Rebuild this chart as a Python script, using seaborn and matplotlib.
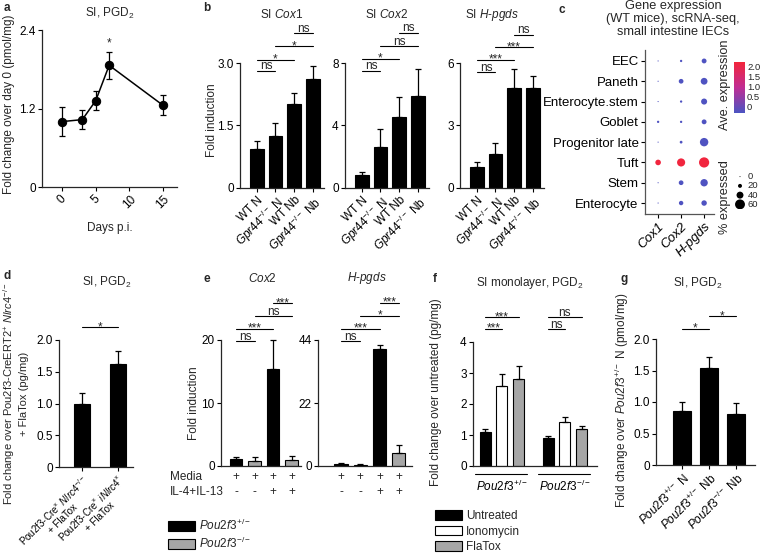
import numpy as np
import pandas as pd
import matplotlib
matplotlib.use("Agg")
import matplotlib.pyplot as plt
import seaborn as sns
from matplotlib.colors import LinearSegmentedColormap, Normalize
from matplotlib.cm import ScalarMappable
from matplotlib.patches import Patch

# ---------------- data ----------------
# a: PGD2 time course
days_a = [0, 3, 5, 7, 15]
pgd_a = [1.0, 1.03, 1.32, 1.86, 1.25]
sem_a = [0.22, 0.15, 0.15, 0.21, 0.15]

# b: fold induction
labels_b = ["WT N", r"$\mathit{Gpr44}^{-/-}$ N", "WT Nb", r"$\mathit{Gpr44}^{-/-}$ Nb"]
cox1_b = [0.93, 1.25, 2.01, 2.61]
cox1_b_sem = [0.19, 0.31, 0.27, 0.31]
cox2_b = [0.82, 2.62, 4.53, 5.86]
cox2_b_sem = [0.21, 1.13, 1.29, 1.76]
hpgds_b = [1.03, 1.65, 4.81, 4.78]
hpgds_b_sem = [0.21, 0.49, 0.92, 0.60]
sig_cox1_b = [(0, 1, 2.82, "ns"), (0, 2, 3.08, "*"), (1, 3, 3.40, "*"), (2, 3, 3.72, "ns")]
sig_cox2_b = [(0, 1, 7.5, "ns"), (0, 2, 8.26, "*"), (1, 3, 9.07, "ns"), (2, 3, 9.93, "ns")]
sig_hpgds_b = [(0, 1, 5.56, "ns"), (0, 2, 6.16, "***"), (1, 3, 6.75, "***"), (2, 3, 7.35, "ns")]

# c: scRNA-seq dot plot
cells_c = ["EEC", "Paneth", "Enterocyte.stem", "Goblet", "Progenitor late", "Tuft", "Stem", "Enterocyte"]
genes_c = ["Cox1", "Cox2", "H-pgds"]
pct_cox1 = [1, 1, 1, 9, 1, 31, 1, 1]
pct_cox2 = [9, 25, 9, 9, 12, 48, 25, 23]
pct_hpgds = [26, 39, 34, 26, 50, 62, 43, 30]
avg_cox1 = [-0.3, -0.3, -0.3, -0.3, -0.3, 2.2, -0.3, -0.3]
avg_cox2 = [-0.3, -0.3, -0.3, -0.3, -0.3, 2.2, -0.3, -0.3]
avg_hpgds = [-0.3, -0.3, -0.3, -0.3, -0.3, 2.2, -0.3, -0.3]
legend_pct = [0, 20, 40, 60]

# d
labels_d = [r"Pou2f3-Cre$^{\times}$ $\mathit{Nlrc4}^{-/-}$" + "\n+ FlaTox",
            r"Pou2f3-Cre$^{\times}$ $\mathit{iNlrc4}^{\times}$" + "\n+ FlaTox"]
pgd_d = [0.99, 1.62]
pgd_d_sem = [0.18, 0.21]
sig_d = [(0, 1, 2.2, "*")]

# e
groups_e = ["het media", "ko media", "het IL", "ko IL"]
geno_e = ["het", "ko", "het", "ko"]
media_e = ["+", "+", "+", "+"]
il_e = ["-", "-", "+", "+"]
cox2_e = [1.17, 0.85, 15.4, 0.9]
cox2_e_sem = [0.33, 0.65, 4.6, 0.75]
hpgds_e = [0.7, 0.47, 40.8, 4.4]
hpgds_e_sem = [0.3, 0.33, 1.3, 2.8]
sig_cox2_e = [(0, 1, 19.8, "ns"), (0, 2, 21.8, "***"), (1, 3, 23.8, "ns"), (2, 3, 25.8, "***")]
sig_hpgds_e = [(0, 1, 43.6, "ns"), (0, 2, 48.0, "***"), (1, 3, 52.5, "*"), (2, 3, 56.9, "***")]

# f
geno_f = ["het", "ko"]
treat_f = ["Untreated", "Ionomycin", "FlaTox"]
pgd_f_het = [1.09, 2.57, 2.82]
pgd_f_het_sem = [0.11, 0.41, 0.42]
pgd_f_ko = [0.89, 1.43, 1.18]
pgd_f_ko_sem = [0.09, 0.16, 0.11]
sig_f = [(0, 1, 4.42, "***"), (0, 2, 4.80, "***"), (3, 4, 4.42, "ns"), (3, 5, 4.80, "ns")]

# g
labels_g = [r"$\mathit{Pou2f3}^{+/-}$ N", r"$\mathit{Pou2f3}^{+/-}$ Nb", r"$\mathit{Pou2f3}^{-/-}$ Nb"]
pgd_g = [0.86, 1.54, 0.81]
pgd_g_sem = [0.14, 0.17, 0.17]
sig_g = [(0, 1, 2.16, "*"), (1, 2, 2.36, "*")]

# ---------------- style ----------------
sns.set_style("ticks")
plt.rcParams["font.family"] = ["Liberation Sans", "DejaVu Sans"]
plt.rcParams["font.size"] = 8.5
plt.rcParams["mathtext.fontset"] = "custom"
plt.rcParams["mathtext.rm"] = "Liberation Sans"
plt.rcParams["mathtext.it"] = "Liberation Sans:italic"
plt.rcParams["mathtext.bf"] = "Liberation Sans:bold"
plt.rcParams["axes.linewidth"] = 0.9

FS = 8.5
W, H = 760, 554
fig = plt.figure(figsize=(W / 100, H / 100), dpi=100)
GRAY = "#a6a6a6"


def px_axes(left, right, top, bottom):
    return fig.add_axes([left / W, 1 - bottom / H, (right - left) / W, (bottom - top) / H])


def ftext(x, y, s, **kw):
    kw.setdefault("ha", "center")
    kw.setdefault("va", "center")
    kw.setdefault("fontsize", FS)
    return fig.text(x / W, 1 - y / H, s, **kw)


def style(ax):
    sns.despine(ax=ax)
    ax.tick_params(length=3, width=0.8, pad=1.5, labelsize=FS, colors="black")


def bars_xy(ax):
    bars = sorted(ax.patches, key=lambda p: p.get_x())
    return [p.get_x() + p.get_width() / 2 for p in bars], [p.get_height() for p in bars]


def add_err(ax, sems):
    xs, hs = bars_xy(ax)
    ax.errorbar(xs, hs, yerr=[np.zeros(len(sems)), sems], fmt="none", ecolor="black",
                elinewidth=0.9, capsize=2.5, capthick=0.9, zorder=3, clip_on=False)
    return xs


def add_sig(ax, xs, sigs):
    for i, j, y, txt in sigs:
        ax.plot([xs[i], xs[j]], [y, y], color="black", lw=0.8, clip_on=False)
        off = 1.0 if txt == "ns" else -2.0
        ax.annotate(txt, xy=((xs[i] + xs[j]) / 2, y), xytext=(0, off), textcoords="offset points",
                    ha="center", va="baseline", fontsize=FS, annotation_clip=False)


def simple_bars(ax, labels, vals, sems, ymax, ticks, ticklabels, xlim, width):
    sns.barplot(x=labels, y=vals, color="black", saturation=1, width=width,
                edgecolor="black", linewidth=0.8, ax=ax)
    xs = add_err(ax, sems)
    ax.set_ylim(0, ymax)
    ax.set_yticks(ticks)
    ax.set_yticklabels(ticklabels)
    ax.set_xlim(*xlim)
    ax.set_xlabel("")
    ax.set_ylabel("")
    style(ax)
    return xs


def rot_labels(ax, labels, fs=FS, ls=1.2):
    ax.set_xticks(range(len(labels)))
    ax.set_xticklabels(labels, rotation=45, ha="right", rotation_mode="anchor", va="top",
                       multialignment="center", fontsize=fs, linespacing=ls)


# ---------------- a ----------------
ax = px_axes(42, 177, 30, 187)
sns.lineplot(x=days_a, y=pgd_a, color="black", lw=1.1, marker="o", markersize=6,
             markeredgecolor="black", ax=ax)
ax.errorbar(days_a, pgd_a, yerr=sem_a, fmt="none", ecolor="black", elinewidth=0.9,
            capsize=2.5, capthick=0.9)
ax.set_xlim(-3, 17.1)
ax.set_ylim(0, 2.4)
ax.set_yticks([0, 1.2, 2.4])
ax.set_yticklabels(["0", "1.2", "2.4"])
ax.set_xticks([0, 5, 10, 15])
ax.set_xticklabels(["0", "5", "10", "15"], rotation=45, ha="center")
style(ax)
ax.annotate("*", xy=(7, 2.2), ha="center", va="center", fontsize=FS, annotation_clip=False)
ax.set_xlabel("Days p.i.", fontsize=FS, labelpad=8)
ftext(110, 13, r"SI, PGD$_2$")
ftext(9, 104, "Fold change over day 0 (pmol/mg)", rotation=90)
ftext(7, 8, "a", fontweight="bold")

# ---------------- b ----------------
b_specs = [
    (240, cox1_b, cox1_b_sem, 3.0, [0, 1.5, 3.0], ["0", "1.5", "3.0"], sig_cox1_b, r"SI $\mathit{Cox1}$", 282),
    (345, cox2_b, cox2_b_sem, 8, [0, 4, 8], ["0", "4", "8"], sig_cox2_b, r"SI $\mathit{Cox2}$", 387),
    (460, hpgds_b, hpgds_b_sem, 6, [0, 3, 6], ["0", "3", "6"], sig_hpgds_b, r"SI $\mathit{H}$-$\mathit{pgds}$", 492),
]
for left, vals, sems, ymax, ticks, tl, sigs, title, tx in b_specs:
    ax = px_axes(left, left + 84, 63, 188)
    xs = simple_bars(ax, labels_b, vals, sems, ymax, ticks, tl, (-0.9, 3.6), 0.72)
    rot_labels(ax, labels_b)
    add_sig(ax, xs, sigs)
    ftext(tx, 15, title)
ftext(212, 120, "Fold induction", rotation=90)
ftext(207, 8, "b", fontweight="bold")

# ---------------- c ----------------
FC = 9.5
ax = px_axes(645, 714, 50, 214)
cmap_c = LinearSegmentedColormap.from_list("ave", ["#4b54c2", "#c02d94", "#f3253b"])
norm_c = Normalize(-0.35, 2.25)
rows = []
for g, pcts, avgs in zip(genes_c, [pct_cox1, pct_cox2, pct_hpgds], [avg_cox1, avg_cox2, avg_hpgds]):
    for cell, p, a in zip(cells_c, pcts, avgs):
        rows.append({"gene": g, "cell": cell, "pct": p, "avg": a})
df_c = pd.DataFrame(rows)


def dot_area(pct):
    d_px = 1.0 + 8.9 * np.asarray(pct, dtype=float) / 60.0
    return (d_px * 0.72) ** 2


gx = df_c["gene"].map({g: i for i, g in enumerate(genes_c)})
cy = df_c["cell"].map({c: i for i, c in enumerate(cells_c)})
ax.scatter(gx, cy, s=dot_area(df_c["pct"]), c=df_c["avg"], cmap=cmap_c, norm=norm_c, linewidths=0)
ax.set_xlim(-0.57, 2.43)
ax.set_ylim(7.54, -0.54)
ax.set_yticks(range(len(cells_c)))
ax.set_yticklabels(cells_c)
ax.set_xticks(range(len(genes_c)))
ax.set_xticklabels(genes_c, rotation=45, ha="right", rotation_mode="anchor", fontstyle="italic")
style(ax)
ax.tick_params(labelsize=FC)
for sp in ax.spines.values():
    sp.set_color("#555555")
ftext(673, 19, "Gene expression\n(WT mice), scRNA-seq,\nsmall intestine IECs", fontsize=9.2, linespacing=1.1)
ftext(562, 10, "c", fontweight="bold")

cax = px_axes(734, 745, 62, 113)
cb = fig.colorbar(ScalarMappable(norm=norm_c, cmap=cmap_c), cax=cax, ticks=[0, 0.5, 1.0, 1.5, 2.0])
cb.outline.set_visible(False)
cax.set_yticklabels(["0", "0.5", "1.0", "1.5", "2.0"])
cax.tick_params(length=0, labelsize=6.8, pad=1.5)
ftext(725, 85, "Ave. expression", rotation=90, fontsize=9.2)

lax = px_axes(733, 747, 172, 209)
lax.scatter([0, 0, 0, 0], range(len(legend_pct)), s=dot_area(legend_pct), color="black", linewidths=0)
lax.set_ylim(3.5, -0.5)
lax.set_xlim(-0.5, 0.5)
lax.axis("off")
for i, p in enumerate(legend_pct):
    lax.text(1.05, i, str(p), fontsize=6.8, va="center", ha="left", transform=lax.get_yaxis_transform())
ftext(725, 197, "% expressed", rotation=90, fontsize=9.2)

# ---------------- d ----------------
ax = px_axes(59, 133, 340, 467)
xs = simple_bars(ax, labels_d, pgd_d, pgd_d_sem, 2.0, [0, 0.5, 1.0, 1.5, 2.0],
                 ["0", "0.5", "1.0", "1.5", "2.0"], (-0.64, 1.42), 0.44)
rot_labels(ax, labels_d, fs=7.0, ls=1.0)
add_sig(ax, xs, sig_d)
ftext(107, 282, r"SI, PGD$_2$")
ftext(15, 394, r"Fold change over Pou2f3-CreERT2$^{+}$ $\mathit{Nlrc4}^{-/-}$" + "\n+ FlaTox (pg/mg)",
      rotation=90, multialignment="center", linespacing=1.25, fontsize=8)
ftext(7, 276, "d", fontweight="bold")

# ---------------- e ----------------
e_specs = [
    (221, 301, cox2_e, cox2_e_sem, 20, [0, 10, 20], sig_cox2_e, (-0.81, 3.5), r"$\mathit{Cox2}$", 262),
    (318, 412, hpgds_e, hpgds_e_sem, 44, [0, 22, 44], sig_hpgds_e, (-1.19, 3.68), r"$\mathit{H}$-$\mathit{pgds}$", 367),
]
for left, right, vals, sems, ymax, ticks, sigs, xlim, title, tx in e_specs:
    ax = px_axes(left, right, 340, 466)
    sns.barplot(x=groups_e, y=vals, hue=geno_e, palette={"het": "black", "ko": GRAY}, dodge=False,
                saturation=1, width=0.68, edgecolor="black", linewidth=0.8, legend=False, ax=ax)
    xs = add_err(ax, sems)
    ax.set_ylim(0, ymax)
    ax.set_yticks(ticks)
    ax.set_yticklabels([str(t) for t in ticks])
    ax.set_xlim(*xlim)
    ax.set_xlabel("")
    ax.set_ylabel("")
    style(ax)
    ax.set_xticks(range(len(groups_e)))
    ax.set_xticklabels([""] * len(groups_e))
    ax.tick_params(axis="x", length=0)
    tr = ax.get_xaxis_transform()
    for i in range(len(groups_e)):
        ax.text(i, -0.087, media_e[i], transform=tr, ha="center", va="center", fontsize=FS)
        ax.text(i, -0.206, il_e[i], transform=tr, ha="center", va="center", fontsize=FS)
    add_sig(ax, xs, sigs)
    ftext(tx, 278, title)
ftext(170, 477, "Media", ha="left")
ftext(170, 492, "IL-4+IL-13", ha="left")
ftext(194, 403, "Fold induction", rotation=90)
ftext(207, 279, "e", fontweight="bold")
fig.legend(handles=[Patch(facecolor="black", edgecolor="black", lw=0.8),
                    Patch(facecolor=GRAY, edgecolor="black", lw=0.8)],
           labels=[r"$\mathit{Pou2f3}^{+/-}$", r"$\mathit{Pou2f3}^{-/-}$"],
           loc="upper left", bbox_to_anchor=(168 / W, 1 - 518 / H), frameon=False, fontsize=FS,
           handlelength=2.3, handleheight=0.9, handletextpad=0.3, labelspacing=0.25, borderpad=0,
           borderaxespad=0)

# ---------------- f ----------------
ax = px_axes(473, 597, 342, 466)
df_f = pd.DataFrame({
    "geno": [g for g in geno_f for _ in treat_f],
    "treat": treat_f * len(geno_f),
    "val": pgd_f_het + pgd_f_ko,
})
sns.barplot(data=df_f, x="geno", y="val", hue="treat", palette=["black", "white", GRAY],
            saturation=1, width=0.8, gap=0.35, edgecolor="black", linewidth=0.8, legend=False, ax=ax)
xs = add_err(ax, pgd_f_het_sem + pgd_f_ko_sem)
ax.set_ylim(0, 4)
ax.set_yticks([0, 1, 2, 3, 4])
ax.set_xlim(-0.46, 1.51)
ax.set_xlabel("")
ax.set_ylabel("")
style(ax)
ax.set_xticks([0, 1])
ax.set_xticklabels([r"$\mathit{Pou2f3}^{+/-}$", r"$\mathit{Pou2f3}^{-/-}$"])
ax.tick_params(axis="x", length=0, pad=9)
tr = ax.get_xaxis_transform()
for gi in range(len(geno_f)):
    ax.plot([gi - 0.43, gi + 0.40], [-0.065, -0.065], color="black", lw=0.8, transform=tr, clip_on=False)
add_sig(ax, xs, sig_f)
ftext(530, 283, r"SI monolayer, PGD$_2$")
ftext(436, 392, "Fold change over untreated (pg/mg)", rotation=90)
ftext(435, 279, "f", fontweight="bold")
fig.legend(handles=[Patch(facecolor=c, edgecolor="black", lw=0.8) for c in ["black", "white", GRAY]],
           labels=treat_f, loc="upper left", bbox_to_anchor=(435 / W, 1 - 510 / H), frameon=False,
           fontsize=FS, handlelength=2.3, handleheight=0.9, handletextpad=0.3, labelspacing=0.3,
           borderpad=0, borderaxespad=0)

# ---------------- g ----------------
ax = px_axes(656, 755, 339, 465)
xs = simple_bars(ax, labels_g, pgd_g, pgd_g_sem, 2.0, [0, 0.5, 1.0, 1.5, 2.0],
                 ["0", "0.5", "1.0", "1.5", "2.0"], (-0.96, 2.7), 0.68)
rot_labels(ax, labels_g)
add_sig(ax, xs, sig_g)
ftext(698, 283, r"SI, PGD$_2$")
ftext(622, 400, r"Fold change over $\mathit{Pou2f3}^{+/-}$ N (pmol/mg)", rotation=90)
ftext(624, 279, "g", fontweight="bold")

fig.savefig("out.png", dpi=100)
